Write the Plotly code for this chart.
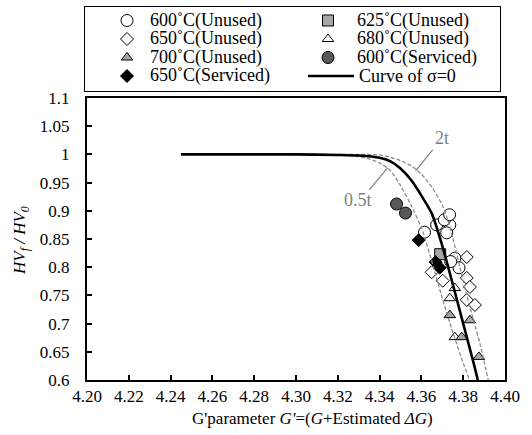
import plotly.graph_objects as go

# Hardness ratio HVf/HV0 against the G' parameter
g_600u = [4.3615, 4.3673, 4.3736, 4.3721, 4.3710, 4.3735, 4.3760, 4.3780, 4.3740]
hv_600u = [0.862, 0.875, 0.875, 0.861, 0.884, 0.893, 0.816, 0.799, 0.810]

g_625u = [4.369]
hv_625u = [0.823]

g_650u = [4.3649, 4.3702, 4.3817, 4.3817, 4.3832, 4.3817, 4.3856]
hv_650u = [0.791, 0.776, 0.818, 0.781, 0.765, 0.742, 0.733]

g_680u = [4.3760, 4.3736, 4.3760]
hv_680u = [0.763, 0.745, 0.676]

g_700u = [4.3736, 4.3832, 4.3793, 4.3875]
hv_700u = [0.715, 0.706, 0.676, 0.641]

g_600s = [4.3481, 4.3524]
hv_600s = [0.912, 0.896]

g_650s = [4.3587, 4.3668, 4.3688]
hv_650s = [0.848, 0.809, 0.799]

# sigma = 0 master curve and the 0.5t / 2t curves
sigma0_g = [4.245, 4.30, 4.32, 4.33, 4.34, 4.345, 4.35, 4.355, 4.36, 4.365, 4.37, 4.375, 4.38, 4.385, 4.387]
sigma0_hv = [1.0, 1.0, 0.999, 0.998, 0.994, 0.988, 0.975, 0.955, 0.927, 0.895, 0.838, 0.77, 0.70, 0.63, 0.60]

t05_g = [4.245, 4.32, 4.33, 4.335, 4.34, 4.345, 4.35, 4.355, 4.36, 4.365, 4.37, 4.375, 4.38, 4.383]
t05_hv = [1.0, 0.999, 0.996, 0.992, 0.985, 0.972, 0.945, 0.91, 0.87, 0.81, 0.745, 0.685, 0.63, 0.60]

t2_g = [4.245, 4.33, 4.34, 4.345, 4.35, 4.355, 4.36, 4.365, 4.37, 4.3725, 4.375, 4.38, 4.385, 4.388, 4.392]
t2_hv = [1.0, 1.0, 0.999, 0.995, 0.989, 0.98, 0.965, 0.942, 0.91, 0.885, 0.852, 0.775, 0.705, 0.665, 0.60]

x_ticks = [4.20, 4.22, 4.24, 4.26, 4.28, 4.30, 4.32, 4.34, 4.36, 4.38, 4.40]
y_ticks = [0.6, 0.65, 0.7, 0.75, 0.8, 0.85, 0.9, 0.95, 1.0, 1.05, 1.1]

legend_labels = ["600˚C(Unused)", "625˚C(Unused)", "650˚C(Unused)", "680˚C(Unused)",
                 "700˚C(Unused)", "600˚C(Serviced)", "650˚C(Serviced)", "Curve of σ=0"]

W, H = 532, 435
FONT = "Liberation Serif"
GRAY = "#a6a6a6"
DARK = "#595959"
LABEL_GRAY = "#7f7f7f"


def fx(px):
    return px / W


def fy(py):
    return 1 - py / H


# marker style of each point series: (symbol, fill, size)
styles = [
    ("circle", "white", 12),
    ("square", GRAY, 11),
    ("diamond", "white", 10),
    ("triangle-up", "white", 10),
    ("triangle-up", GRAY, 10),
    ("circle", DARK, 12),
    ("diamond", "black", 10),
]
series = [
    (g_600u, hv_600u), (g_625u, hv_625u), (g_650u, hv_650u), (g_680u, hv_680u),
    (g_700u, hv_700u), (g_600s, hv_600s), (g_650s, hv_650s),
]

fig = go.Figure()

for (gx, hy), (sym, fill, size), name in zip(series, styles, legend_labels):
    fig.add_trace(go.Scatter(
        x=gx, y=hy, mode="markers", name=name, showlegend=False,
        marker=dict(symbol=sym, size=size, color=fill, line=dict(color="black", width=1)),
    ))

for gx, hy in ((t05_g, t05_hv), (t2_g, t2_hv)):
    fig.add_trace(go.Scatter(
        x=gx, y=hy, mode="lines", showlegend=False,
        line=dict(color="#8c8c8c", width=1.3, dash="4px,2px", shape="spline", smoothing=0.6),
    ))

fig.add_trace(go.Scatter(
    x=sigma0_g, y=sigma0_hv, mode="lines", name=legend_labels[7], showlegend=False,
    line=dict(color="black", width=2.6, shape="spline", smoothing=0.6),
))

# boxed two-column key drawn on its own small axes (pixel units)
key_rows = [20.5, 39, 57.5, 76]
key_cols = [(127, 148), (328, 355)]
for i, ((sym, fill, size), name) in enumerate(zip(styles, legend_labels[:7])):
    mx, tx = key_cols[i % 2]
    ry = key_rows[i // 2]
    fig.add_trace(go.Scatter(
        x=[mx], y=[ry], mode="markers", xaxis="x2", yaxis="y2", showlegend=False,
        hoverinfo="skip",
        marker=dict(symbol=sym, size=size, color=fill, line=dict(color="black", width=1)),
    ))
    fig.add_annotation(xref="x2", yref="y2", x=tx, y=ry, text=name, showarrow=False,
                       xanchor="left", yanchor="middle",
                       font=dict(family=FONT, size=18, color="black"))
fig.add_trace(go.Scatter(
    x=[308, 354], y=[key_rows[3], key_rows[3]], mode="lines", xaxis="x2", yaxis="y2",
    showlegend=False, hoverinfo="skip", line=dict(color="black", width=2.6),
))
fig.add_annotation(xref="x2", yref="y2", x=357, y=key_rows[3], text=legend_labels[7],
                   showarrow=False, xanchor="left", yanchor="middle",
                   font=dict(family=FONT, size=18, color="black"))

# labels for the time curves with leader lines
fig.add_annotation(x=4.3298, y=0.919, text="0.5t", showarrow=False,
                   font=dict(family=FONT, size=18, color=LABEL_GRAY))
fig.add_annotation(x=4.3697, y=1.029, text="2t", showarrow=False,
                   font=dict(family=FONT, size=18, color=LABEL_GRAY))
fig.add_shape(type="line", x0=4.3351, y0=0.937, x1=4.3438, y1=0.976,
              line=dict(color=LABEL_GRAY, width=1.2))
fig.add_shape(type="line", x0=4.3654, y0=1.008, x1=4.3572, y1=0.971,
              line=dict(color=LABEL_GRAY, width=1.2))

# axis titles
fig.add_annotation(xref="paper", yref="paper", x=fx(312), y=fy(418),
                   xanchor="center", yanchor="middle",
                   text="G'parameter <i>G'</i>=(<i>G</i>+Estimated <i>ΔG</i>)",
                   showarrow=False, font=dict(family=FONT, size=17, color="black"))
fig.add_annotation(xref="paper", yref="paper", x=fx(21), y=fy(241), textangle=-90,
                   xanchor="center", yanchor="middle",
                   text="<i>HV<sub>f</sub> / HV<sub>0</sub></i>",
                   showarrow=False, font=dict(family=FONT, size=17, color="black"))

axis_common = dict(
    showgrid=False, zeroline=False, showline=True, linecolor="black", linewidth=2,
    mirror=True, ticks="inside", ticklen=5, tickwidth=1.5, tickcolor="black",
    tickfont=dict(family=FONT, size=17, color="black"),
)
key_axis = dict(showgrid=False, zeroline=False, showticklabels=False, ticks="",
                showline=True, linecolor="black", linewidth=1, mirror=True, fixedrange=True)

fig.update_layout(
    width=W, height=H,
    margin=dict(l=0, r=0, t=0, b=0, autoexpand=False),
    paper_bgcolor="white", plot_bgcolor="white",
    font=dict(family=FONT, size=17, color="black"),
    showlegend=False,
    xaxis=dict(domain=[fx(87), fx(505)], anchor="y", range=[4.20, 4.40],
               tickvals=x_ticks, tickformat=".2f", ticklabelstandoff=0, **axis_common),
    yaxis=dict(domain=[fy(380), fy(98)], anchor="x", range=[0.6, 1.1],
               tickvals=y_ticks, ticklabelstandoff=12, **axis_common),
    xaxis2=dict(domain=[fx(85), fx(500)], anchor="y2", range=[85, 500], **key_axis),
    yaxis2=dict(domain=[fy(91), fy(7)], anchor="x2", range=[91, 7], **key_axis),
)

fig.write_html("out.html")
